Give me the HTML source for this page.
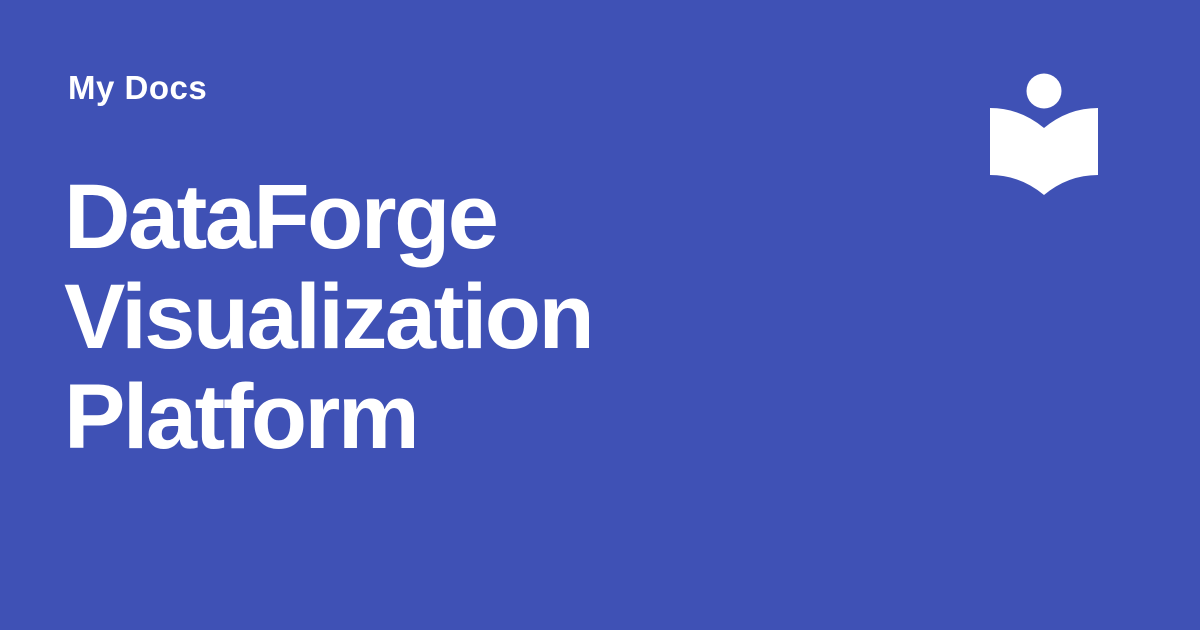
<!DOCTYPE html>
<html><head><style>
html,body{margin:0;padding:0}
body{width:1200px;height:630px;background:#3f51b5;position:relative;overflow:hidden;font-family:"Liberation Sans",sans-serif;color:#fff;font-weight:bold}
.site{position:absolute;left:68px;top:69px;font-size:33px;line-height:38px;letter-spacing:0.5px}
.t{position:absolute;left:64px;font-size:92px;line-height:100px;letter-spacing:-2.5px}
</style></head><body>
<div class="site">My Docs</div>
<div class="t" style="top:167px">DataForge</div>
<div class="t" style="top:267px">Visualization</div>
<div class="t" style="top:367px">Platform</div>
<svg width="1200" height="630" style="position:absolute;left:0;top:0">
<circle cx="1044" cy="91" r="17.5" fill="#fff"/>
<path d="M990,108 Q1020,108 1044,128 Q1068,108 1098,108 L1098,175 Q1068,175 1044,195 Q1020,175 990,175 Z" fill="#fff"/>
</svg>
</body></html>
